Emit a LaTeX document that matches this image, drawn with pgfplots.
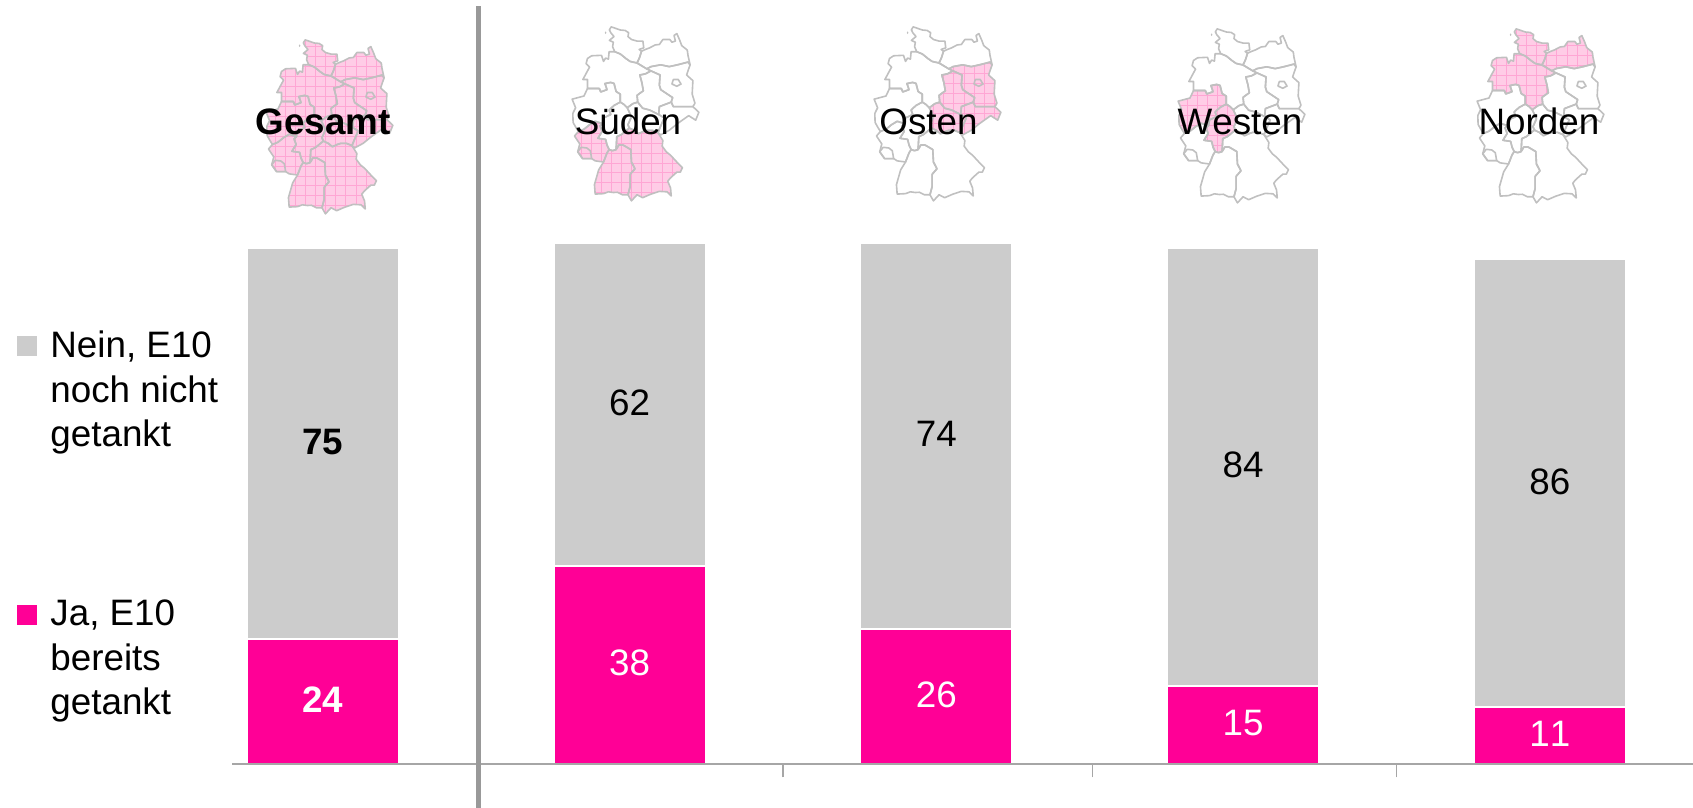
\documentclass[border=0pt]{standalone}
\usepackage{pgfplots}
\pgfplotsset{compat=1.18}
\usepackage{fontspec}
\setmainfont[Kerning=Off]{Liberation Sans}
\definecolor{jaPink}{HTML}{FF0096}
\definecolor{neinGrey}{HTML}{CCCCCC}
\definecolor{axGrey}{HTML}{A6A6A6}
\definecolor{vGrey}{HTML}{999999}
\definecolor{mapFill}{HTML}{FFCCE6}
\definecolor{mapGrid}{HTML}{FFA6D4}
\definecolor{mapLine}{HTML}{C0C0C0}
\newcommand\lab{\fontsize{18.4}{22}\selectfont}
% Bundeslaender, simplified, (lon,lat)
\def\rSH{(8.75,54.98)--(8.62,54.85)--(8.72,54.72)--(8.95,54.55)--(8.62,54.38)--(8.9,54.3)--(8.85,54.1)--(9.0,53.88)--(9.4,53.78)--(9.8,53.58)--(10.1,53.45)--(10.6,53.38)--(10.78,53.62)--(10.92,53.9)--(10.75,53.98)--(11.08,54.05)--(11.02,54.35)--(10.6,54.35)--(10.2,54.42)--(9.95,54.55)--(10.0,54.72)--(9.75,54.82)--(9.4,54.84)--(8.75,54.98)--cycle}
\def\rMV{(10.92,53.9)--(11.2,53.98)--(11.5,54.05)--(11.9,54.18)--(12.2,54.2)--(12.45,54.42)--(12.95,54.42)--(13.1,54.3)--(13.35,54.35)--(13.25,54.6)--(13.45,54.68)--(13.65,54.4)--(13.8,54.15)--(14.2,53.95)--(14.25,53.72)--(14.4,53.3)--(14.25,53.42)--(13.5,53.3)--(12.9,53.22)--(12.3,53.3)--(11.6,53.22)--(11.3,53.12)--(10.6,53.38)--(10.78,53.62)--cycle}
\def\rNI{(6.95,53.35)--(7.05,53.58)--(7.35,53.7)--(8.05,53.72)--(8.2,53.45)--(8.35,53.6)--(8.55,53.55)--(8.6,53.88)--(9.0,53.88)--(9.4,53.78)--(9.8,53.58)--(10.1,53.45)--(10.6,53.38)--(11.3,53.12)--(11.6,53.03)--(11.2,52.9)--(10.8,52.85)--(10.95,52.5)--(11.05,52.15)--(10.6,51.95)--(10.65,51.65)--(10.3,51.58)--(9.9,51.4)--(9.65,51.55)--(9.4,51.65)--(9.4,52.0)--(9.1,52.12)--(8.95,52.48)--(8.7,52.52)--(8.3,52.47)--(8.45,52.2)--(8.0,52.1)--(7.9,52.25)--(7.05,52.25)--(7.05,52.65)--(6.72,52.65)--(7.2,53.2)--cycle}
\def\rNW{(7.05,52.25)--(7.9,52.25)--(8.0,52.1)--(8.45,52.2)--(8.3,52.47)--(8.7,52.52)--(8.95,52.48)--(9.1,52.12)--(9.4,52.0)--(9.4,51.65)--(8.95,51.5)--(8.6,51.3)--(8.72,51.1)--(8.2,50.95)--(8.12,50.7)--(7.6,50.8)--(7.2,50.65)--(6.8,50.45)--(6.4,50.35)--(6.2,50.55)--(6.02,50.75)--(6.0,51.15)--(6.2,51.4)--(5.95,51.78)--(6.8,51.92)--cycle}
\def\rHE{(9.4,51.65)--(9.65,51.55)--(9.9,51.4)--(10.2,51.0)--(9.95,50.65)--(10.05,50.5)--(9.75,50.35)--(9.5,50.22)--(9.15,50.12)--(9.1,49.55)--(8.85,49.5)--(8.6,49.55)--(8.45,49.75)--(8.35,50.0)--(7.8,50.05)--(8.1,50.35)--(7.95,50.6)--(8.12,50.7)--(8.2,50.95)--(8.72,51.1)--(8.6,51.3)--(8.95,51.5)--cycle}
\def\rRP{(6.4,50.35)--(6.8,50.45)--(7.2,50.65)--(7.6,50.8)--(8.12,50.7)--(7.95,50.6)--(8.1,50.35)--(7.8,50.05)--(8.35,50.0)--(8.45,49.75)--(8.6,49.55)--(8.45,49.4)--(8.2,49.0)--(7.6,49.05)--(7.35,49.15)--(6.7,49.15)--(6.35,49.45)--(6.5,49.8)--(6.12,50.15)--cycle}
\def\rSL{(6.35,49.45)--(6.6,49.65)--(7.0,49.62)--(7.25,49.5)--(7.35,49.15)--(6.7,49.15)--cycle}
\def\rBW{(8.6,49.55)--(8.85,49.5)--(9.1,49.55)--(9.3,49.75)--(9.6,49.75)--(10.15,49.55)--(10.2,49.0)--(10.45,48.7)--(10.1,48.45)--(10.1,47.9)--(9.95,47.55)--(9.55,47.55)--(9.2,47.66)--(8.9,47.65)--(8.55,47.68)--(8.2,47.6)--(7.6,47.58)--(7.55,48.0)--(7.85,48.65)--(8.2,49.0)--(8.45,49.4)--cycle}
\def\rBY{(9.1,49.55)--(9.15,50.12)--(9.5,50.22)--(9.75,50.35)--(10.05,50.5)--(10.4,50.4)--(10.7,50.25)--(11.05,50.35)--(11.3,50.4)--(11.7,50.4)--(12.1,50.3)--(12.45,49.95)--(12.4,49.7)--(12.7,49.45)--(13.0,49.3)--(13.45,49.0)--(13.85,48.75)--(13.7,48.55)--(13.45,48.55)--(13.0,48.3)--(12.8,48.15)--(13.0,47.85)--(13.05,47.5)--(12.75,47.68)--(12.2,47.7)--(11.6,47.58)--(11.0,47.42)--(10.6,47.55)--(10.2,47.28)--(9.95,47.55)--(10.1,47.9)--(10.1,48.45)--(10.45,48.7)--(10.2,49.0)--(10.15,49.55)--(9.6,49.75)--(9.3,49.75)--cycle}
\def\rTH{(9.9,51.4)--(10.3,51.58)--(10.65,51.65)--(11.0,51.38)--(11.5,51.3)--(12.15,51.1)--(12.55,50.95)--(12.3,50.6)--(12.1,50.3)--(11.7,50.4)--(11.3,50.4)--(11.05,50.35)--(10.7,50.25)--(10.4,50.4)--(10.05,50.5)--(9.95,50.65)--(10.2,51.0)--cycle}
\def\rST{(11.6,53.03)--(12.25,52.85)--(12.2,52.4)--(12.3,52.2)--(13.15,51.85)--(13.05,51.65)--(12.2,51.45)--(12.15,51.1)--(11.5,51.3)--(11.0,51.38)--(10.65,51.65)--(10.6,51.95)--(11.05,52.15)--(10.95,52.5)--(10.8,52.85)--(11.2,52.9)--cycle}
\def\rBB{(11.3,53.12)--(11.6,53.22)--(12.3,53.3)--(12.9,53.22)--(13.5,53.3)--(14.25,53.42)--(14.4,53.3)--(14.15,52.85)--(14.6,52.6)--(14.55,52.0)--(14.75,51.6)--(14.6,51.45)--(14.0,51.45)--(13.2,51.45)--(13.05,51.65)--(13.15,51.85)--(12.3,52.2)--(12.2,52.4)--(12.25,52.85)--(11.6,53.03)--cycle}
\def\rBE{(13.1,52.45)--(13.2,52.65)--(13.55,52.65)--(13.75,52.45)--(13.45,52.35)--cycle}
\def\rSN{(12.15,51.1)--(12.2,51.45)--(13.05,51.65)--(13.2,51.45)--(14.0,51.45)--(14.6,51.45)--(15.03,51.2)--(14.8,50.85)--(14.3,51.05)--(13.5,50.7)--(12.9,50.4)--(12.3,50.2)--(12.1,50.3)--(12.3,50.6)--(12.55,50.95)--cycle}
\newcommand\gmap[3]{%
 \begin{scope}[xshift=#1*0.5pt-40.97pt,yshift=(808-#2)*0.5pt-622.2pt,x=6.98pt,y=11.3pt]
  \foreach \r in {#3}{%
   \fill[mapFill] \r;
   \begin{scope}
    \clip \r;
    \foreach \g in {5.9,6.62,...,15.1}{\draw[mapGrid,line width=.35pt] (\g,47.2)--(\g,55.1);}
    \foreach \g in {47.2,47.64,...,55.1}{\draw[mapGrid,line width=.35pt] (5.8,\g)--(15.1,\g);}
   \end{scope}
  }
  \foreach \r in {\rSH,\rMV,\rNI,\rNW,\rHE,\rRP,\rSL,\rBW,\rBY,\rTH,\rST,\rBB,\rBE,\rSN}{%
   \draw[mapLine,line width=.8pt,line join=round] \r;
  }
  \fill[mapLine] (8.35,54.72) circle[radius=.06];
 \end{scope}}
\pgfplotsset{common/.style={
  scale only axis,width=730.5pt,height=273.8pt,
  at={(116pt,21.75pt)},anchor=south west,
  xmin=-0.2967,xmax=4.467,ymin=0,ymax=105}}
\begin{document}
\begin{tikzpicture}
\path[use as bounding box] (0,0) rectangle (846.5pt,404pt);
\gmap{265}{38}{\rSH,\rMV,\rNI,\rNW,\rHE,\rRP,\rBW,\rBY,\rTH,\rST,\rBB,\rSN}
\gmap{571}{25}{\rRP,\rBW,\rBY}
\gmap{873}{25}{\rTH,\rST,\rBB,\rSN}
\gmap{1177}{27}{\rNW,\rHE}
\gmap{1476}{27}{\rSH,\rMV,\rNI}
\begin{axis}[common,
  ybar stacked,bar width=76pt,axis on top,
  axis x line*=bottom,axis y line=none,
  x axis line style={-,color=axGrey,line width=1pt},
  xtick={0.5,1.5,2.51,3.5},xticklabels={},
  xtick align=outside,major tick length=6.5pt,
  xtick style={color=axGrey,line width=.6pt},
  ytick=\empty]
\addplot[fill=jaPink,draw=white,line width=1pt] coordinates {(0,24)(1,38)(2,26)(3,15)(4,11)};
\addplot[fill=neinGrey,draw=white,line width=1pt] coordinates {(0,75)(1,62)(2,74)(3,84)(4,86)};
\end{axis}
\begin{axis}[common,hide axis,clip=false,
  nodes near coords,point meta=explicit symbolic]
\addplot[color=vGrey,line width=2.3pt,nodes near coords=] coordinates {(0.507,-8.4)(0.507,145.4)};
\addplot[mark=none,draw=none,every node near coord/.style={anchor=center,text=black,font=\lab\bfseries}]
  table[meta=l] {x y l
0 61.9 75
};
\addplot[mark=none,draw=none,every node near coord/.style={anchor=center,text=white,font=\lab\bfseries}]
  table[meta=l] {x y l
0 12.4 24
};
\addplot[mark=none,draw=none,every node near coord/.style={anchor=center,text=black,font=\lab}]
  table[meta=l] {x y l
1 69.4 62
2 63.4 74
3 57.4 84
4 54.2 86
};
\addplot[mark=none,draw=none,every node near coord/.style={anchor=center,text=white,font=\lab}]
  table[meta=l] {x y l
1 19.4 38
2 13.4 26
3 7.9 15
4 5.9 11
};
\end{axis}
\begin{scope}[x=0.5pt,y=-0.5pt,yshift=404pt,every node/.style={inner sep=0pt,text=black,font=\lab}]
\node[anchor=base,font=\lab\bfseries] at (323,135) {Gesamt};
\node[anchor=base] at (628,135) {Süden};
\node[anchor=base] at (928.5,135) {Osten};
\node[anchor=base] at (1240,135) {Westen};
\node[anchor=base] at (1539,135) {Norden};
\fill[neinGrey] (17,336) rectangle (37,356);
\node[anchor=base west] at (50,358) {Nein, E10};
\node[anchor=base west] at (50,403) {noch nicht};
\node[anchor=base west] at (50,447) {getankt};
\fill[jaPink] (17,605) rectangle (37,625);
\node[anchor=base west] at (50,626) {Ja, E10};
\node[anchor=base west] at (50,671) {bereits};
\node[anchor=base west] at (50,715) {getankt};
\end{scope}
\end{tikzpicture}
\end{document}
